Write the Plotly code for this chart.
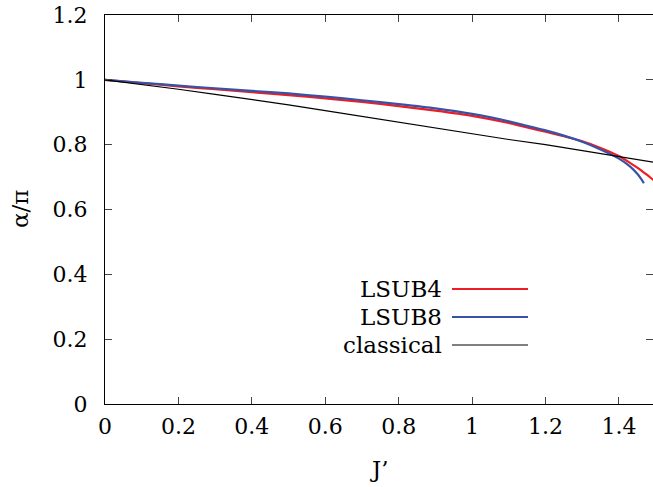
import plotly.graph_objects as go

# Data
j_lsub4 = [0, 0.1, 0.2, 0.3, 0.4, 0.5, 0.6, 0.7, 0.8, 0.9, 1.0, 1.1, 1.15, 1.2, 1.25, 1.3, 1.35, 1.4, 1.43, 1.45, 1.475, 1.493, 1.5]
a_lsub4 = [1.0, 0.990, 0.980, 0.971, 0.962, 0.953, 0.943, 0.932, 0.919, 0.905, 0.889, 0.867, 0.853, 0.840, 0.826, 0.810, 0.790, 0.765, 0.744, 0.729, 0.708, 0.692, 0.686]

j_lsub8 = [0, 0.1, 0.2, 0.3, 0.4, 0.5, 0.6, 0.7, 0.8, 0.9, 1.0, 1.1, 1.15, 1.2, 1.25, 1.3, 1.35, 1.4, 1.43, 1.45, 1.46, 1.468]
a_lsub8 = [1.0, 0.991, 0.982, 0.974, 0.966, 0.958, 0.948, 0.937, 0.925, 0.912, 0.895, 0.872, 0.858, 0.844, 0.828, 0.809, 0.785, 0.757, 0.733, 0.710, 0.695, 0.681]

j_classical = [0, 0.1, 0.2, 0.3, 0.4, 0.5, 0.6, 0.7, 0.8, 0.9, 1.0, 1.1, 1.2, 1.3, 1.4, 1.5]
a_classical = [1.0, 0.986, 0.971, 0.955, 0.940, 0.923, 0.905, 0.887, 0.869, 0.851, 0.833, 0.816, 0.800, 0.782, 0.763, 0.745]

series_names = ["LSUB4", "LSUB8", "classical"]
x_ticks = [0, 0.2, 0.4, 0.6, 0.8, 1, 1.2, 1.4]
y_ticks = [0, 0.2, 0.4, 0.6, 0.8, 1, 1.2]

RED = "#ee1c25"
BLUE = "#3953a4"
BLACK = "#000000"
FONT = "DejaVu Serif"

fig = go.Figure()
fig.add_trace(go.Scatter(x=j_lsub4, y=a_lsub4, mode="lines", name=series_names[0],
                         line=dict(color=RED, width=2.2, shape="spline", smoothing=0.6),
                         showlegend=False))
fig.add_trace(go.Scatter(x=j_lsub8, y=a_lsub8, mode="lines", name=series_names[1],
                         line=dict(color=BLUE, width=2.2, shape="spline", smoothing=0.6),
                         showlegend=False))
fig.add_trace(go.Scatter(x=j_classical, y=a_classical, mode="lines", name=series_names[2],
                         line=dict(color=BLACK, width=1.2), showlegend=False))
# invisible trace to drive right-side mirror ticks
fig.add_trace(go.Scatter(x=[0], y=[0], yaxis="y2", mode="lines", line=dict(width=0),
                         hoverinfo="skip", showlegend=False))

W, H = 653, 487
L, R, T, B = 105, 0, 15, 83
fig.update_layout(
    width=W, height=H,
    margin=dict(l=L, r=R, t=T, b=B),
    paper_bgcolor="white", plot_bgcolor="white",
    font=dict(family=FONT, size=22, color="black"),
    xaxis=dict(range=[0, 1.4928], tickvals=x_ticks, ticks="inside", ticklen=7,
               tickcolor="#444", showline=True, linecolor="black", linewidth=1.3,
               mirror="ticks", showgrid=False, zeroline=False,
               tickfont=dict(family=FONT, size=22), ticklabelstandoff=2),
    yaxis=dict(range=[0, 1.2], tickvals=y_ticks, ticks="inside", ticklen=7,
               tickcolor="#444", showline=True, linecolor="black", linewidth=1.3,
               showgrid=False, zeroline=False,
               tickfont=dict(family=FONT, size=22), ticklabelstandoff=12),
    yaxis2=dict(range=[0, 1.2], tickvals=y_ticks, ticks="inside", ticklen=7,
                tickcolor="#444", overlaying="y", side="right", showline=False,
                showticklabels=False, showgrid=False, zeroline=False),
)

plot_w = W - L - R
plot_h = H - T - B

def px_x(px):
    return (px - L) / plot_w

def px_y(py):
    return (H - B - py) / plot_h

annotations = [
    dict(text="J’", x=px_x(379), y=px_y(469), xref="paper", yref="paper",
         showarrow=False, xanchor="center", yanchor="middle",
         font=dict(family=FONT, size=23)),
    dict(text="α/π", x=px_x(20), y=px_y(209), xref="paper", yref="paper",
         showarrow=False, xanchor="center", yanchor="middle", textangle=-90,
         font=dict(family=FONT, size=23)),
]
shapes = []
legend_rows = [289, 317, 345]
legend_colors = [RED, BLUE, BLACK]
legend_widths = [2.2, 2.2, 1.2]
for name, row, col, lw in zip(series_names, legend_rows, legend_colors, legend_widths):
    annotations.append(dict(text=name, x=px_x(444), y=px_y(row), xref="paper", yref="paper",
                            showarrow=False, xanchor="right", yanchor="middle",
                            font=dict(family=FONT, size=23)))
    shapes.append(dict(type="line", xref="paper", yref="paper",
                       x0=px_x(452), x1=px_x(528), y0=px_y(row), y1=px_y(row),
                       line=dict(color=col, width=lw)))

fig.update_layout(annotations=annotations, shapes=shapes)
fig.write_html("out.html")
